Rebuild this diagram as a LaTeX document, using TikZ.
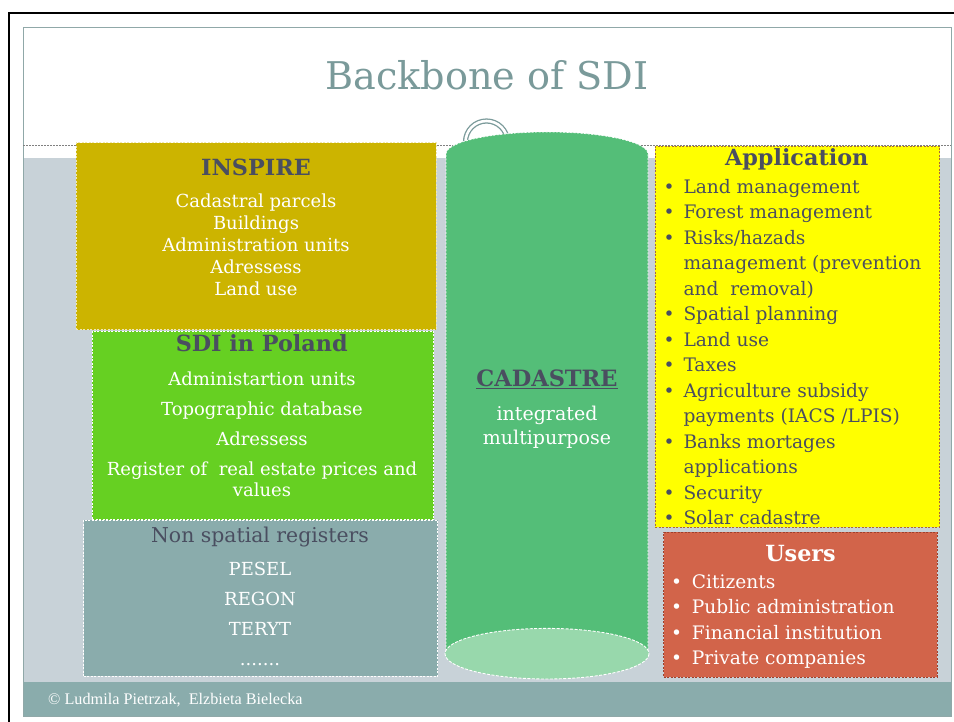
\documentclass[tikz,border=0pt]{standalone}
\usepackage{fontspec}
\setmainfont{DejaVu Serif}
\newfontfamily\footfont{Liberation Serif}
\definecolor{darktext}{HTML}{4A4E60}
\definecolor{titlecol}{HTML}{7A9A9A}
\definecolor{bodybg}{HTML}{C8D2D8}
\definecolor{footbg}{HTML}{8AACAC}
\definecolor{inspirefill}{HTML}{CCB400}
\definecolor{polandfill}{HTML}{66D022}
\definecolor{nonspfill}{HTML}{8AACAC}
\definecolor{cylfill}{HTML}{54BE78}
\definecolor{cylbottom}{HTML}{98D8AC}
\definecolor{appfill}{HTML}{FFFF00}
\definecolor{appborder}{HTML}{A86A3A}
\definecolor{userfill}{HTML}{D2644A}
\definecolor{userborder}{HTML}{A0402C}
\definecolor{framecol}{HTML}{90A8A8}
\tikzset{
  boxnode/.style={draw, dash pattern=on 2pt off 1.5pt, line width=0.7pt, inner sep=0pt, anchor=north west},
  txt/.style={anchor=base, inner sep=0pt, font=\fontsize{18}{22}\selectfont},
  ttl/.style={anchor=base, inner sep=0pt, font=\bfseries\fontsize{22.3}{26}\selectfont, text=darktext},
  item/.style={anchor=base west, inner sep=0pt, font=\fontsize{18.6}{22}\selectfont},
  bul/.style={anchor=base, inner sep=0pt, font=\fontsize{18.6}{22}\selectfont},
}
\begin{document}
\begin{tikzpicture}[x=1pt,y=-1pt]
\useasboundingbox (0,0) rectangle (954,722);
\fill[white] (0,0) rectangle (954,722);
% outer black frame
\draw[black, line width=2.5pt] (9,722) -- (9,13) -- (954,13);
% slide background
\fill[bodybg] (23,158) rectangle (951,682);
\fill[footbg] (23,682) rectangle (951,716);
\draw[framecol, line width=0.8pt] (23,27) rectangle (951,716);
\draw[gray, dash pattern=on 2pt off 1pt, line width=0.6pt] (23,145) -- (951,145);
% title
\node[anchor=base, inner sep=0pt, text=titlecol, font=\fontsize{38.2}{44}\selectfont] (title) at (487,90) {Backbone of SDI};
% ring behind cylinder
\draw[titlecol, line width=1.3pt, double=white, double distance=2.6pt] (486.5,142) circle [radius=21];
% cylinder
\fill[cylfill] (446,654) -- (446,154) .. controls (446,141.85) and (491.2,132) .. (547,132)
  .. controls (602.8,132) and (648,141.85) .. (648,154) -- (648,654) -- cycle;
\draw[white, dash pattern=on 2pt off 1.5pt, line width=0.7pt] (446,654) -- (446,154) .. controls (446,141.85) and (491.2,132) .. (547,132)
  .. controls (602.8,132) and (648,141.85) .. (648,154) -- (648,654);
\draw[white, fill=cylbottom, dash pattern=on 3pt off 1.5pt, line width=0.9pt] (547,653.7) ellipse [x radius=102, y radius=25.3];
\node[anchor=base, inner sep=0pt, text=darktext, font=\bfseries\fontsize{22.5}{26}\selectfont] (cad) at (547,386.7) {\underline{CADASTRE}};
\node[txt, text=white, font=\fontsize{19}{23}\selectfont] (cad1) at (547,420) {integrated};
\node[txt, text=white, font=\fontsize{19}{23}\selectfont] (cad2) at (547,444.3) {multipurpose};
% INSPIRE
\node[boxnode, draw=white!70!inspirefill, fill=inspirefill, minimum width=360pt, minimum height=187pt] (inspire) at (76,142.3) {};
\node[ttl] (inspT) at (256,175.7) {INSPIRE};
\foreach \t/\y [count=\k] in {Cadastral parcels/207.7, Buildings/230, Administration units/251.7, Adressess/273.5, Land use/295.7}
  \node[txt, text=white] (insp\k) at (256,\y) {\t};
% SDI in Poland
\node[boxnode, draw=white, fill=polandfill, minimum width=341.6pt, minimum height=188.3pt] (poland) at (91.7,331) {};
\node[ttl] (polT) at (261.7,352) {SDI in Poland};
\foreach \t/\y [count=\k] in {Administartion units/385, Topographic database/415, Adressess/445.3, Register of\ \ real estate prices and/475.7, values/496.7}
  \node[txt, text=white] (pol\k) at (262,\y) {\t};
% Non spatial registers
\node[boxnode, draw=white, fill=nonspfill, minimum width=354pt, minimum height=156.3pt] (nonsp) at (83.3,519.7) {};
\node[txt, text=darktext, font=\fontsize{20.4}{24}\selectfont] (nonT) at (260,542.7) {Non spatial registers};
\foreach \t/\y [count=\k] in {PESEL/575, REGON/605.7, TERYT/635.3}
  \node[txt, text=white] (non\k) at (260,\y) {\t};
\node[txt, text=white] (non4) at (260,665) {.......};
% Application
\node[boxnode, draw=appborder, fill=appfill, minimum width=284.3pt, minimum height=380.7pt] (app) at (655,146) {};
\node[ttl] (appT) at (796.7,165.7) {Application};
\foreach \t [count=\k] in {Land management, Forest management, Risks/hazads, management (prevention, and\ \ removal), Spatial planning, Land use, Taxes, Agriculture subsidy, payments (IACS /LPIS), Banks mortages, applications, Security, Solar cadastre}
  \node[item, text=darktext] (app\k) at (683.3,{193.3+25.5*(\k-1)}) {\t};
\foreach \k in {1,2,3,6,7,8,9,11,13,14}
  \node[bul, text=darktext] (appb\k) at (669,{193.3+25.5*(\k-1)}) {\textbullet};
% Users
\node[boxnode, draw=userborder, fill=userfill, minimum width=273.4pt, minimum height=144.7pt] (users) at (663.3,532) {};
\node[ttl, text=white] (usrT) at (800.5,561.7) {Users};
\foreach \t [count=\k] in {Citizents, Public administration, Financial institution, Private companies} {
  \node[item, text=white] (usr\k) at (691.7,{588.3+25.5*(\k-1)}) {\t};
  \node[bul, text=white] (usrb\k) at (676.7,{588.3+25.5*(\k-1)}) {\textbullet};
}
% footer
\node[anchor=base west, inner sep=0pt, text=white, font=\footfont\fontsize{16.2}{19}\selectfont] (foot) at (48,704) {© Ludmila Pietrzak,\ \ Elzbieta Bielecka};
\end{tikzpicture}
\end{document}
